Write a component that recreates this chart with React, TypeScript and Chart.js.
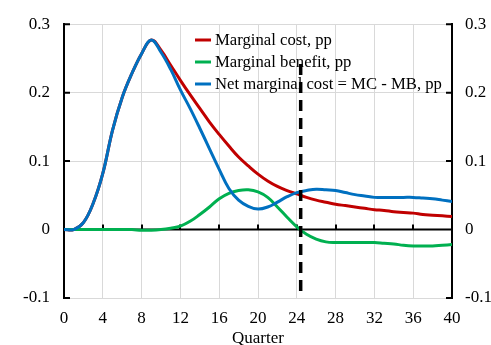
import React, { useEffect, useRef } from "react";
import { Chart, registerables } from "chart.js";

Chart.register(...registerables);

const quarters = Array.from({ length: 41 }, (_, i) => i);

const marginalCost = [
  0, 0, 0.01, 0.038, 0.082, 0.145, 0.193, 0.228, 0.257, 0.277,
  0.262, 0.24, 0.218, 0.197, 0.177, 0.157, 0.139, 0.122, 0.106, 0.093,
  0.081, 0.071, 0.063, 0.057, 0.052, 0.047, 0.043, 0.04, 0.037, 0.035,
  0.033, 0.031, 0.029, 0.028, 0.026, 0.025, 0.024, 0.022, 0.021, 0.02, 0.019,
];

const marginalBenefit = [
  0, 0, 0, 0, 0, 0, 0, 0, -0.001, -0.001,
  0, 0.002, 0.005, 0.012, 0.022, 0.033, 0.045, 0.053, 0.057, 0.058,
  0.055, 0.047, 0.033, 0.018, 0.004, -0.007, -0.014, -0.018, -0.019, -0.019,
  -0.019, -0.019, -0.019, -0.02, -0.021, -0.023, -0.024, -0.024, -0.024, -0.023, -0.022,
];

const netMarginalCost = [
  0, 0, 0.01, 0.038, 0.082, 0.145, 0.193, 0.228, 0.257, 0.277,
  0.259, 0.234, 0.204, 0.177, 0.148, 0.118, 0.088, 0.06, 0.043, 0.034,
  0.03, 0.033, 0.04, 0.048, 0.054, 0.057, 0.059, 0.058, 0.057, 0.054,
  0.051, 0.049, 0.047, 0.047, 0.047, 0.047, 0.047, 0.046, 0.045, 0.043, 0.041,
];

const markerQuarter = [24.4, 24.4];
const markerValues = [0.242, -0.092];

const seriesLabels = [
  "Marginal cost, pp",
  "Marginal benefit, pp",
  "Net marginal cost = MC - MB, pp",
];
const seriesColors = ["#C00000", "#00B050", "#0070C0"];

const FONT = '"Liberation Serif", "Times New Roman", serif';

const pts = (ys: number[]) => quarters.map((q, i) => ({ x: q, y: ys[i] }));

const axesPlugin = {
  id: "axesPlugin",
  beforeDatasetsDraw(chart: any) {
    const { ctx, chartArea, scales } = chart;
    const x = scales.x;
    const y = scales.y;
    const y0 = y.getPixelForValue(0);
    ctx.save();
    ctx.strokeStyle = "#000";
    ctx.lineWidth = 2;
    ctx.beginPath();
    ctx.moveTo(chartArea.left, y0);
    ctx.lineTo(chartArea.right, y0);
    for (let q = 4; q < 40; q += 4) {
      const px = Math.round(x.getPixelForValue(q));
      ctx.moveTo(px, y0);
      ctx.lineTo(px, y0 - 5);
    }
    for (const v of [-0.1, 0, 0.1, 0.2, 0.3]) {
      const py = y.getPixelForValue(v);
      ctx.moveTo(chartArea.left, py);
      ctx.lineTo(chartArea.left + 6, py);
      ctx.moveTo(chartArea.right, py);
      ctx.lineTo(chartArea.right - 6, py);
    }
    ctx.stroke();
    ctx.restore();
  },
  afterDatasetsDraw(chart: any) {
    const { ctx } = chart;
    ctx.save();
    ctx.font = `16.7px ${FONT}`;
    ctx.textBaseline = "middle";
    ctx.textAlign = "left";
    const lx = 195;
    const rows = [40, 62, 84];
    seriesLabels.forEach((label, i) => {
      ctx.strokeStyle = seriesColors[i];
      ctx.lineWidth = 3;
      ctx.beginPath();
      ctx.moveTo(lx, rows[i]);
      ctx.lineTo(lx + 16, rows[i]);
      ctx.stroke();
      ctx.fillStyle = "#000";
      ctx.fillText(label, lx + 20, rows[i] + 1);
    });
    ctx.restore();
  },
};

export default function App() {
  const ref = useRef<HTMLCanvasElement | null>(null);
  useEffect(() => {
    if (!ref.current) return;
    const tickFont = { family: FONT, size: 17 };
    const line = (i: number, ys: number[], order: number) => ({
      label: seriesLabels[i],
      data: pts(ys),
      borderColor: seriesColors[i],
      borderWidth: 3,
      pointRadius: 0,
      tension: 0.4,
      order,
    });
    const chart = new Chart(ref.current, {
      type: "line",
      data: {
        datasets: [
          line(0, marginalCost, 3),
          line(1, marginalBenefit, 2),
          line(2, netMarginalCost, 1),
          {
            label: "marker",
            data: markerQuarter.map((q, i) => ({ x: q, y: markerValues[i] })),
            borderColor: "#000",
            borderWidth: 3.5,
            borderDash: [11, 7],
            pointRadius: 0,
            order: 0,
          },
        ],
      },
      options: {
        animation: false,
        responsive: false,
        devicePixelRatio: 1,
        layout: { padding: { left: 0, right: 0, top: 14, bottom: 0 } },
        plugins: { legend: { display: false }, tooltip: { enabled: false } },
        scales: {
          x: {
            type: "linear",
            min: 0,
            max: 40,
            afterFit: (s: any) => {
              s.height = 47;
            },
            ticks: { stepSize: 4, font: tickFont, color: "#000", padding: 10, maxRotation: 0 },
            grid: { color: "#d9d9d9", lineWidth: 1, drawTicks: false },
            border: { display: true, color: "#d9d9d9", width: 1 },
            title: {
              display: true,
              text: "Quarter",
              font: tickFont,
              color: "#000",
              padding: { top: 0, bottom: -4 },
            },
          },
          y: {
            position: "left",
            min: -0.1,
            max: 0.3,
            afterFit: (s: any) => {
              s.width = 64;
            },
            ticks: {
              stepSize: 0.1,
              font: tickFont,
              color: "#000",
              padding: 14,
              callback: (v: any) => String(Math.round(Number(v) * 10) / 10),
            },
            grid: { color: "#d9d9d9", lineWidth: 1, drawTicks: false },
            border: { display: true, color: "#000", width: 2 },
          },
          y2: {
            position: "right",
            min: -0.1,
            max: 0.3,
            afterFit: (s: any) => {
              s.width = 39;
            },
            ticks: {
              stepSize: 0.1,
              font: tickFont,
              color: "#000",
              padding: 13,
              callback: (v: any) => String(Math.round(Number(v) * 10) / 10),
            },
            grid: { display: false, drawTicks: false },
            border: { display: true, color: "#000", width: 2 },
          },
        },
      },
      plugins: [axesPlugin],
    } as any);
    return () => chart.destroy();
  }, []);
  return (
    <div style={{ position: "absolute", left: 0, top: 0, width: 491, height: 345, background: "#fff" }}>
      <canvas ref={ref} width={491} height={345} />
    </div>
  );
}
